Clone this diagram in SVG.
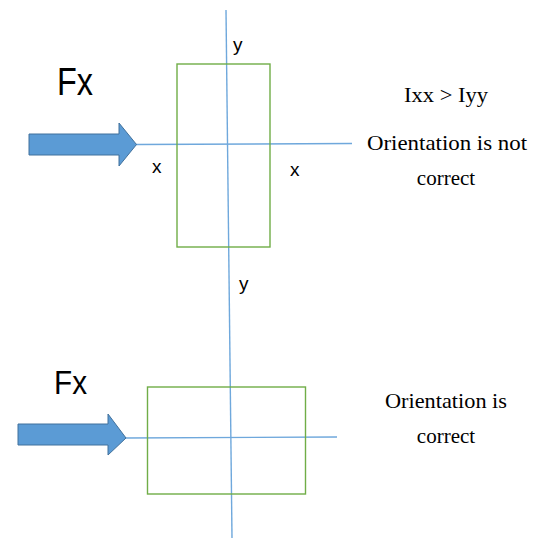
<svg xmlns="http://www.w3.org/2000/svg" width="533" height="538" viewBox="0 0 533 538">
<style>
.axis{stroke:#6fa8dc;stroke-width:1.4;fill:none}
.box{stroke:#70ad47;stroke-width:1.4;fill:none}
.arrow{fill:#5b9bd5;stroke:#41719c;stroke-width:1}
.sans{font-family:"Liberation Sans",Arial,sans-serif;fill:#000}
.serif{font-family:"Liberation Serif","Times New Roman",serif;fill:#000;font-size:21px;text-anchor:middle}
</style>
<rect width="533" height="538" fill="#fff"/>
<g id="connectors">
<line class="axis" x1="226" y1="10" x2="232" y2="538"/>
<line class="axis" x1="136" y1="144.5" x2="352" y2="143.5"/>
<line class="axis" x1="125" y1="438" x2="337" y2="437"/>
</g>
<g id="rect-top"><rect class="box" x="177" y="64" width="93" height="183"/></g>
<g id="rect-bottom"><rect class="box" x="147.5" y="387" width="158" height="107"/></g>
<g id="arrow-top"><polygon class="arrow" points="29,134 119,134 119,123 136.5,144.5 119,166 119,155 29,155"/></g>
<g id="arrow-bottom"><polygon class="arrow" points="18,424 108,424 108,414 126,438 108,455 108,445 18,445"/></g>
<g id="labels">
<text class="sans" x="57" y="95" font-size="38" textLength="36" lengthAdjust="spacingAndGlyphs">Fx</text>
<text class="sans" x="54" y="394" font-size="34" textLength="33" lengthAdjust="spacingAndGlyphs">Fx</text>
<text class="sans" x="233" y="51" font-size="19">y</text>
<text class="sans" x="239" y="290" font-size="19">y</text>
<text class="sans" x="152" y="173" font-size="19">x</text>
<text class="sans" x="290" y="176" font-size="19">x</text>
<text class="serif" x="446" y="102" textLength="84" lengthAdjust="spacingAndGlyphs">Ixx &gt; Iyy</text>
<text class="serif" x="447" y="150" textLength="160" lengthAdjust="spacingAndGlyphs">Orientation is not</text>
<text class="serif" x="446" y="185">correct</text>
<text class="serif" x="446" y="408" textLength="122" lengthAdjust="spacingAndGlyphs">Orientation is</text>
<text class="serif" x="446" y="443">correct</text>
</g>
</svg>
